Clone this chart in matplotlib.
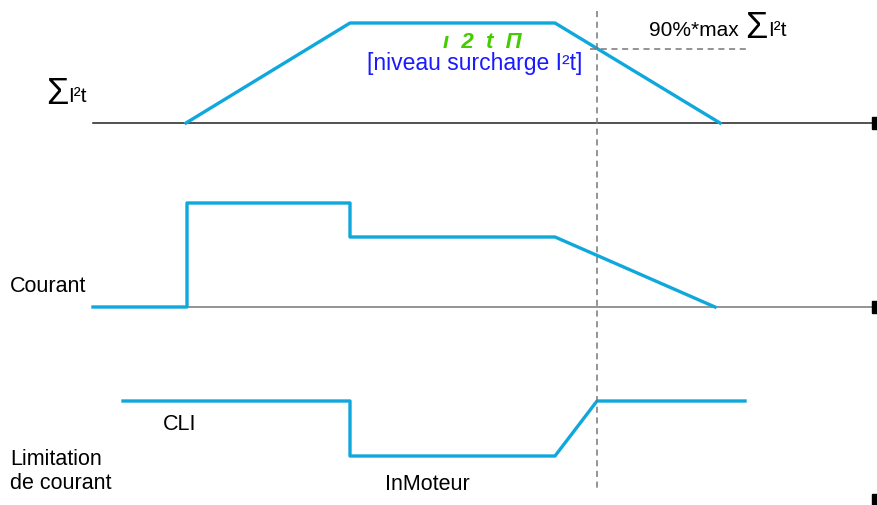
import numpy as np
import matplotlib.pyplot as plt

plt.rcParams['font.family'] = ['Liberation Sans', 'DejaVu Sans']

# chronogramme : instants (abscisses) et niveaux (ordonnées en pixels, axe inversé)
t_i2t = [186, 350, 555, 720]
v_i2t = [124, 24, 24, 124]

t_courant = [93, 187, 187, 350, 350, 555, 715]
v_courant = [308, 308, 204, 204, 238, 238, 308]

t_limit = [123, 350, 350, 555, 597, 745]
v_limit = [402, 402, 457, 457, 402, 402]

y_axes = [124, 308, 501]
t_seuil = 597
y_seuil = 50

bleu = '#0fa8dc'

fig = plt.figure(figsize=(8.77, 5.06), dpi=100)
ax = fig.add_axes([0, 0, 1, 1])
ax.set_xlim(0, 877)
ax.set_ylim(506, 0)
ax.axis('off')

# axes des temps
ax.plot([93, 872], [y_axes[0], y_axes[0]], color='#222222', lw=1.1)
ax.plot([93, 872], [y_axes[1], y_axes[1]], color='#777777', lw=1.1)
for y in y_axes:
    ax.plot([878], [y], marker='s', color='black', ms=9, clip_on=True)

# signaux
ax.plot(t_i2t, v_i2t, color=bleu, lw=2.4)
ax.plot(t_courant, v_courant, color=bleu, lw=2.4)
ax.plot(t_limit, v_limit, color=bleu, lw=2.4)

# seuil
ax.plot([t_seuil, t_seuil], [12, 492], color='#777777', lw=1.1, ls=(0, (4, 3)))
ax.plot([590, 746], [y_seuil, y_seuil], color='#777777', lw=1.1, ls=(0, (4, 3)))

# textes
ax.text(649, 30, '90%*max', fontsize=15, va='center', ha='left')
ax.text(745, 28, '\u03a3', fontsize=26, va='center', ha='left')
ax.text(768, 30, 'I\u00b2t', fontsize=15, va='center', ha='left')

ax.text(46, 94, '\u03a3', fontsize=26, va='center', ha='left')
ax.text(68, 96, 'I\u00b2t', fontsize=15, va='center', ha='left')

ax.text(482, 42, '\u0131  2  t  \u041f', fontsize=16, color='#44cc00', style='italic',
        ha='center', va='center', fontweight='bold')
ax.text(475, 63, '[niveau surcharge I\u00b2t]', fontsize=16.5, color='#1a1aff',
        ha='center', va='center')

ax.text(10, 286, 'Courant', fontsize=15.5, va='center')
ax.text(163, 425, 'CLI', fontsize=15.5, va='center')
ax.text(10, 460, 'Limitation', fontsize=15.5, va='center')
ax.text(10, 484, 'de courant', fontsize=15.5, va='center')
ax.text(385, 485, 'InMoteur', fontsize=15.5, va='center')

fig.savefig('out.png', dpi=100)
